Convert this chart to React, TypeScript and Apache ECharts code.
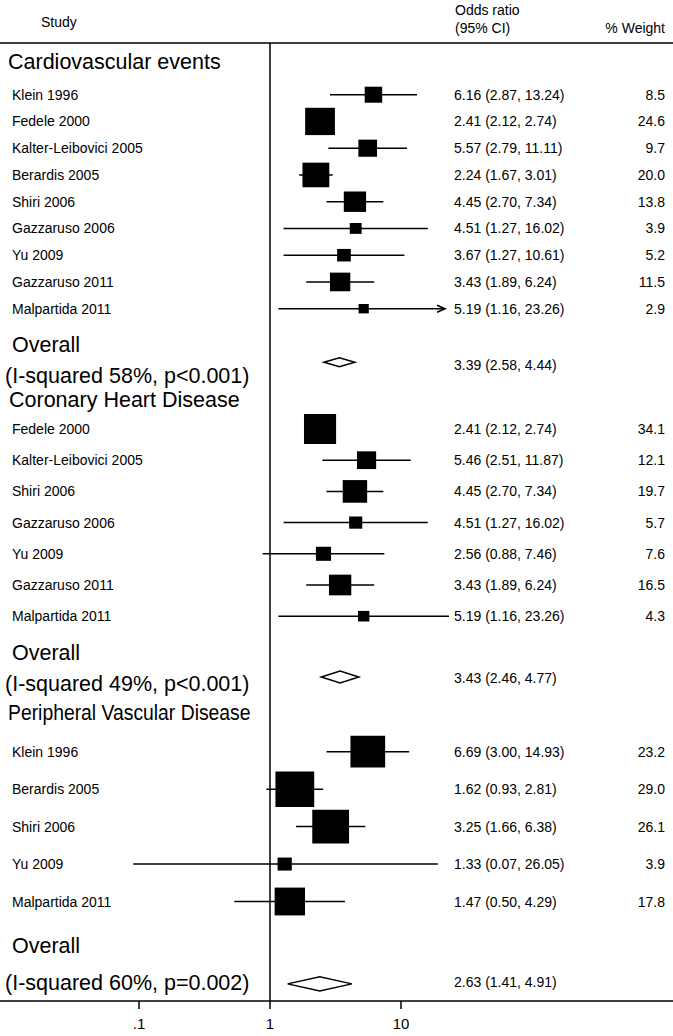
import React, { useEffect, useRef } from "react";
import * as echarts from "echarts";

// ---------------- data ----------------
const cveStudies = ["Klein 1996", "Fedele 2000", "Kalter-Leibovici 2005", "Berardis 2005", "Shiri 2006", "Gazzaruso 2006", "Yu 2009", "Gazzaruso 2011", "Malpartida 2011"];
const cveOR = [6.16, 2.41, 5.57, 2.24, 4.45, 4.51, 3.67, 3.43, 5.19];
const cveLo = [2.87, 2.12, 2.79, 1.67, 2.7, 1.27, 1.27, 1.89, 1.16];
const cveHi = [13.24, 2.74, 11.11, 3.01, 7.34, 16.02, 10.61, 6.24, 23.26];
const cveWeight = [8.5, 24.6, 9.7, 20.0, 13.8, 3.9, 5.2, 11.5, 2.9];
const cveOverall = [3.39, 2.58, 4.44];
const cveHet = "(I-squared 58%, p<0.001)";

const chdStudies = ["Fedele 2000", "Kalter-Leibovici 2005", "Shiri 2006", "Gazzaruso 2006", "Yu 2009", "Gazzaruso 2011", "Malpartida 2011"];
const chdOR = [2.41, 5.46, 4.45, 4.51, 2.56, 3.43, 5.19];
const chdLo = [2.12, 2.51, 2.7, 1.27, 0.88, 1.89, 1.16];
const chdHi = [2.74, 11.87, 7.34, 16.02, 7.46, 6.24, 23.26];
const chdWeight = [34.1, 12.1, 19.7, 5.7, 7.6, 16.5, 4.3];
const chdOverall = [3.43, 2.46, 4.77];
const chdHet = "(I-squared 49%, p<0.001)";

const pvdStudies = ["Klein 1996", "Berardis 2005", "Shiri 2006", "Yu 2009", "Malpartida 2011"];
const pvdOR = [6.69, 1.62, 3.25, 1.33, 1.47];
const pvdLo = [3.0, 0.93, 1.66, 0.07, 0.5];
const pvdHi = [14.93, 2.81, 6.38, 26.05, 4.29];
const pvdWeight = [23.2, 29.0, 26.1, 3.9, 17.8];
const pvdOverall = [2.63, 1.41, 4.91];
const pvdHet = "(I-squared 60%, p=0.002)";

const sectionTitles = ["Cardiovascular events", "Coronary Heart Disease", "Peripheral Vascular Disease"];
const tickValues = [0.1, 1, 10];
const tickLabels = [".1", "1", "10"];

// ---------------- layout ----------------
const W = 673;
const H = 1036;
const FONT = "Liberation Sans, Arial, Helvetica, sans-serif";
const ONE_X = 270;
const HEADER_LINE_Y = 43;
const AXIS_Y = 1001;
const BIG = 21.5;

const layouts = [
  { ppd: 131, titleSx: 1, row0: 94.7, step: 26.75, gap: 2, boxW: 6.0, boxH: 5.5, dH: 4.5, clipHi: 21.7, titleX: 8, titleY: 62, overallY: 345, hetY: 376, orOff: 3 },
  { ppd: 131, titleSx: 1, row0: 429, step: 31.2, gap: 1.95, boxW: 5.5, boxH: 5.1, dH: 6, clipHi: Infinity, titleX: 9, titleY: 400, overallY: 653, hetY: 684, orOff: 1 },
  { ppd: 118.5, titleSx: 0.9, row0: 751.7, step: 37.45, gap: 2.2, boxW: 7.2, boxH: 6.6, dH: 7, clipHi: Infinity, titleX: 8, titleY: 712, overallY: 946, hetY: 983, orOff: -2 },
];

const sectionsData = [
  { studies: cveStudies, or: cveOR, lo: cveLo, hi: cveHi, wt: cveWeight, overall: cveOverall, het: cveHet },
  { studies: chdStudies, or: chdOR, lo: chdLo, hi: chdHi, wt: chdWeight, overall: chdOverall, het: chdHet },
  { studies: pvdStudies, or: pvdOR, lo: pvdLo, hi: pvdHi, wt: pvdWeight, overall: pvdOverall, het: pvdHet },
];

const fmt = (e: number, l: number, h: number) => `${e.toFixed(2)} (${l.toFixed(2)}, ${h.toFixed(2)})`;

function txt(text: string, x: number, y: number, size: number, align = "left", sx = 1) {
  return {
    type: "text", x, y, scaleX: sx,
    style: { text, x: 0, y: 0, textAlign: align, textVerticalAlign: "middle", fontSize: size, fontFamily: FONT, fill: "#000" },
  };
}

function buildOption() {
  const grid: any[] = [];
  const xAxis: any[] = [];
  const yAxis: any[] = [];
  const series: any[] = [];
  const graphic: any[] = [];

  sectionsData.forEach((sd, si) => {
    const L = layouts[si];
    const n = sd.studies.length;
    const overallRow = n - 1 + L.gap;
    grid.push({ left: 0, width: W, top: L.row0 - L.step / 2, height: L.step * (overallRow + 1) });
    xAxis.push({
      type: "log", gridIndex: si, show: false,
      min: Math.pow(10, -ONE_X / L.ppd), max: Math.pow(10, (W - ONE_X) / L.ppd),
    });
    yAxis.push({ type: "value", gridIndex: si, show: false, inverse: true, min: -0.5, max: overallRow + 0.5 });

    const data = sd.studies.map((_, i) => [sd.lo[i], sd.hi[i], sd.or[i], sd.wt[i], i]);
    series.push({
      type: "custom", xAxisIndex: si, yAxisIndex: si, silent: true, clip: false,
      encode: { x: [0, 1, 2], y: 4 },
      data,
      renderItem: (params: any, api: any) => {
        const idx = params.dataIndex;
        const lo = api.value(0), hi = api.value(1), est = api.value(2), wt = api.value(3), row = api.value(4);
        const clipped = hi > L.clipHi;
        const a = api.coord([lo, row]);
        const b = api.coord([clipped ? L.clipHi : hi, row]);
        const c = api.coord([est, row]);
        const bw = L.boxW * Math.sqrt(wt);
        const bh = L.boxH * Math.sqrt(wt);
        const children: any[] = [
          { type: "line", shape: { x1: a[0], y1: a[1], x2: b[0], y2: b[1] }, style: { stroke: "#000", lineWidth: 1.5 } },
          { type: "rect", shape: { x: c[0] - bw / 2, y: c[1] - bh / 2, width: bw, height: bh }, style: { fill: "#000" } },
        ];
        if (clipped) {
          children.push({
            type: "polyline",
            shape: { points: [[b[0] - 8, b[1] - 3.5], [b[0], b[1]], [b[0] - 8, b[1] + 3.5]] },
            style: { stroke: "#000", lineWidth: 1.5, fill: null },
          });
        }
        children.push(txt(sd.studies[idx], 12, c[1], 14));
        children.push(txt(fmt(est, lo, sd.hi[idx]), 454, c[1], 14));
        children.push(txt(sd.wt[idx].toFixed(1), 665, c[1], 14, "right"));
        return { type: "group", children };
      },
    });

    series.push({
      type: "custom", xAxisIndex: si, yAxisIndex: si, silent: true, clip: false,
      encode: { x: [0, 1, 2], y: 3 },
      data: [[sd.overall[1], sd.overall[2], sd.overall[0], overallRow]],
      renderItem: (params: any, api: any) => {
        const lo = api.value(0), hi = api.value(1), est = api.value(2), row = api.value(3);
        const pl = api.coord([lo, row]);
        const pr = api.coord([hi, row]);
        const pc = api.coord([est, row]);
        return {
          type: "group",
          children: [
            {
              type: "polygon",
              shape: { points: [[pl[0], pl[1]], [pc[0], pc[1] - L.dH], [pr[0], pr[1]], [pc[0], pc[1] + L.dH]] },
              style: { fill: "#fff", stroke: "#000", lineWidth: 1.5 },
            },
            txt(fmt(est, lo, hi), 454, pc[1] + L.orOff, 14),
          ],
        };
      },
    });

    graphic.push(
      txt(sectionTitles[si], L.titleX, L.titleY, BIG, "left", L.titleSx),
      txt("Overall", 12, L.overallY, BIG),
      txt(sd.het, 5, L.hetY, BIG),
    );
  });

  // frame grid: reference line at 1, bottom axis, header rule
  const gi = 3;
  const fMin = Math.pow(10, -ONE_X / 131);
  const fMax = Math.pow(10, (W - ONE_X) / 131);
  grid.push({ left: 0, width: W, top: HEADER_LINE_Y, height: AXIS_Y - HEADER_LINE_Y });
  xAxis.push({
    type: "log", gridIndex: gi, position: "bottom", min: fMin, max: fMax,
    axisLine: { show: true, lineStyle: { color: "#000", width: 1.5 } },
    axisTick: { show: true, customValues: tickValues, length: 8, lineStyle: { color: "#000", width: 1.5 } },
    axisLabel: {
      show: true, customValues: tickValues, margin: 15, color: "#000", fontSize: 15, fontFamily: FONT,
      formatter: (v: number) => {
        const k = tickValues.findIndex((t) => Math.abs(Math.log10(t) - Math.log10(v)) < 1e-6);
        return k >= 0 ? tickLabels[k] : "";
      },
    },
    splitLine: { show: false },
  });
  xAxis.push({
    type: "log", gridIndex: gi, position: "top", min: fMin, max: fMax,
    axisLine: { show: true, lineStyle: { color: "#000", width: 1.5 } },
    axisTick: { show: false }, axisLabel: { show: false }, splitLine: { show: false },
  });
  yAxis.push({ type: "value", gridIndex: gi, show: false, min: 0, max: 1 });
  series.push({
    type: "line", xAxisIndex: 3, yAxisIndex: 3, silent: true, symbol: "none",
    data: [[1, 0], [1, 1]],
    lineStyle: { color: "#000", width: 1.5 },
  });

  graphic.push(
    txt("Study", 41, 22, 14),
    txt("Odds ratio", 455, 10, 14),
    txt("(95% CI)", 455, 28, 14),
    txt("% Weight", 665, 28, 14, "right"),
  );

  return {
    animation: false,
    backgroundColor: "#fff",
    grid, xAxis, yAxis, series, graphic,
  };
}

export default function App() {
  const ref = useRef<HTMLDivElement>(null);
  useEffect(() => {
    if (!ref.current) return;
    const chart = echarts.init(ref.current, undefined, { renderer: "svg" });
    chart.setOption(buildOption() as any);
    return () => chart.dispose();
  }, []);
  return <div ref={ref} style={{ position: "absolute", left: 0, top: 0, width: W, height: H, background: "#fff" }} />;
}
